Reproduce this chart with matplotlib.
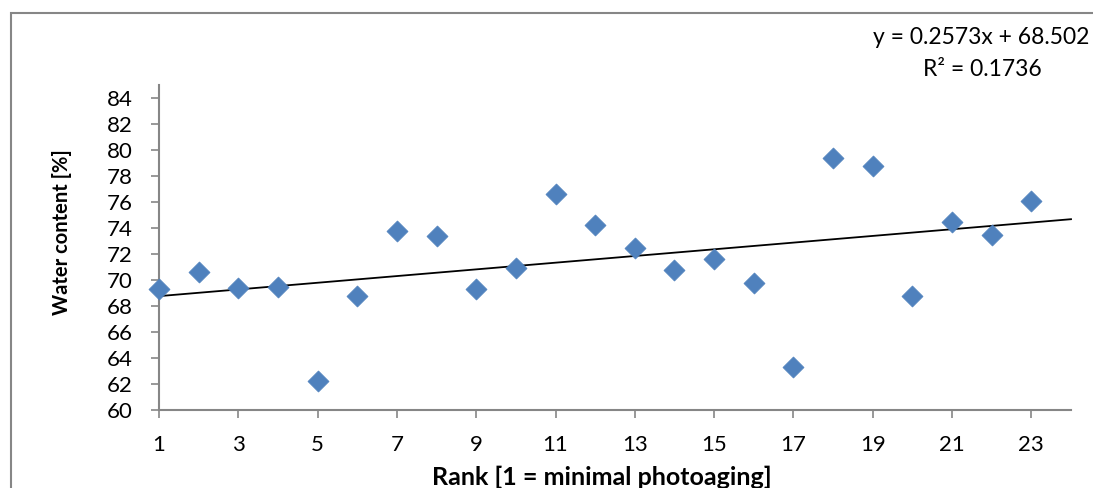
import matplotlib
matplotlib.use("Agg")
import matplotlib.pyplot as plt
import numpy as np
from matplotlib.patches import Rectangle

# data
rank = list(range(1, 24))
water = [69.3, 70.65, 69.35, 69.45, 62.2, 68.75, 73.8, 73.4, 69.3, 70.9,
         76.6, 74.2, 72.5, 70.75, 71.6, 69.8, 63.3, 79.4, 78.8, 68.8,
         74.45, 73.5, 76.1]
slope = 0.2573
intercept = 68.502
r2 = 0.1736
xticks = list(range(1, 24, 2))
yticks = list(range(60, 86, 2))

plt.rcParams['font.family'] = ['Lato', 'DejaVu Sans']

fig = plt.figure(figsize=(10.93, 4.88), dpi=100)
W, H = 1093, 488
ax = fig.add_axes([159 / W, 1 - 410 / H, (1071 - 159) / W, (410 - 85) / H])

# chart frame (cut off at right and bottom)
fig.patches.append(Rectangle((11 / W, -0.1), 1.2, 1 - 13 / H + 0.1,
                             transform=fig.transFigure, fill=False,
                             edgecolor='#868686', linewidth=1.5))

ax.scatter(rank, water, marker='D', s=115, color='#4F81BD', edgecolors='#4F81BD',
           linewidths=0.5, zorder=3, clip_on=False)

xt = np.array([1, 24])
ax.plot(xt, intercept + slope * xt, color='black', linewidth=1.3, zorder=2,
        clip_on=False)

ax.set_xlim(1, 24)
ax.set_ylim(60, 85)
ax.set_xticks(xticks)
ax.set_yticks(yticks)
ax.tick_params(axis='both', labelsize=16, color='#868686', length=6, width=1.2)
ax.tick_params(axis='x', pad=12)
ax.tick_params(axis='y', pad=13)
for s in ['top', 'right']:
    ax.spines[s].set_visible(False)
for s in ['left', 'bottom']:
    ax.spines[s].set_color('#868686')
    ax.spines[s].set_linewidth(1.5)

fig.text(602 / W, 1 - 477 / H, 'Rank [1 = minimal photoaging]', fontsize=18,
         fontweight='bold', ha='center', va='center')
fig.text(62 / W, 1 - 232 / H, 'Water content [%]', fontsize=14.5,
         fontweight='bold', ha='center', va='center', rotation=90)

fig.text(981 / W, 1 - 37 / H, 'y = %.4fx + %.3f' % (slope, intercept),
         fontsize=16.5, ha='center', va='center')
fig.text(982 / W, 1 - 69 / H, 'R² = %.4f' % r2, fontsize=16.5,
         ha='center', va='center')

fig.savefig('out.png', dpi=100)
